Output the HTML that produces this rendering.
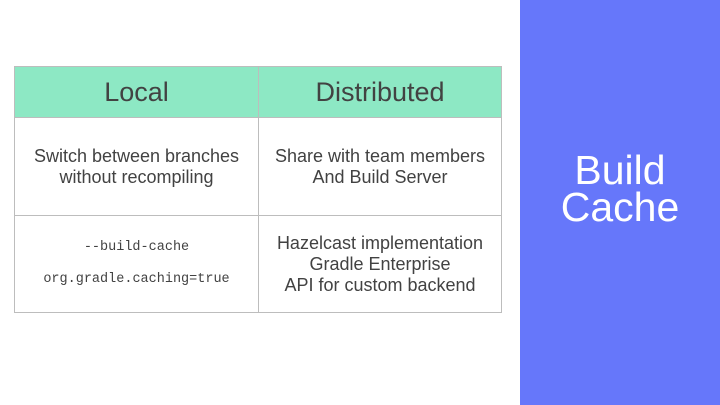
<!DOCTYPE html>
<html><head><style>
body{margin:0;width:720px;height:405px;background:#fff;position:relative;overflow:hidden;font-family:"Liberation Sans",sans-serif;}
.panel{position:absolute;left:520px;top:0;width:200px;height:405px;background:#6677fa;}
.title{position:absolute;left:520px;width:200px;top:152px;text-align:center;color:#fff;font-size:41px;line-height:37px;}
.c{position:absolute;box-sizing:border-box;border:1px solid #bdbdbd;display:flex;flex-direction:column;align-items:center;justify-content:center;text-align:center;color:#424242;}
.h{background:#8de8c4;font-size:27px;}
.b{font-size:18px;line-height:21px;}
.m{font-family:"Liberation Mono",monospace;font-size:13.5px;line-height:32px;}
</style></head><body>
<div class="c h" style="left:14px;top:66px;width:245px;height:52px">Local</div>
<div class="c h" style="left:258px;top:66px;width:244px;height:52px">Distributed</div>
<div class="c b" style="left:14px;top:117px;width:245px;height:99px">Switch between branches<br>without recompiling</div>
<div class="c b" style="left:258px;top:117px;width:244px;height:99px">Share with team members<br>And Build Server</div>
<div class="c m" style="left:14px;top:215px;width:245px;height:98px">--build-cache<br>org.gradle.caching=true</div>
<div class="c b" style="left:258px;top:215px;width:244px;height:98px">Hazelcast implementation<br>Gradle Enterprise<br>API for custom backend</div>
<div class="panel"></div>
<div class="title">Build<br>Cache</div>
</body></html>
